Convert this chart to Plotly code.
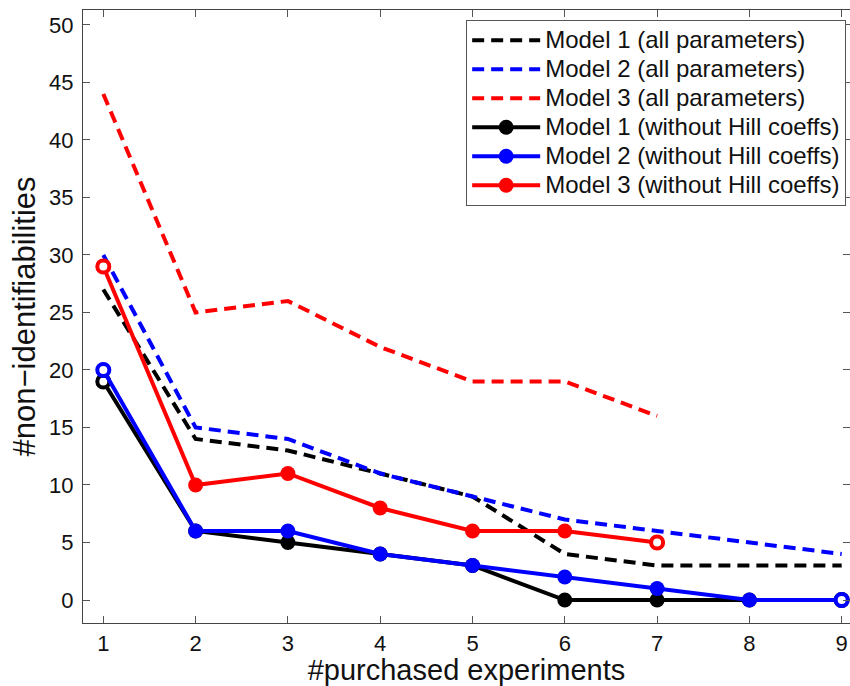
import plotly.graph_objects as go

x_all = [1, 2, 3, 4, 5, 6, 7, 8, 9]
x_m3 = [1, 2, 3, 4, 5, 6, 7]

m1_all = [27, 14, 13, 11, 9, 4, 3, 3, 3]
m2_all = [30, 15, 14, 11, 9, 7, 6, 5, 4]
m3_all = [44, 25, 26, 22, 19, 19, 16]

m1_nohill = [19, 6, 5, 4, 3, 0, 0, 0, 0]
m2_nohill = [20, 6, 6, 4, 3, 2, 1, 0, 0]
m3_nohill = [29, 10, 11, 8, 6, 6, 5]

names_all = ["Model 1 (all parameters)", "Model 2 (all parameters)", "Model 3 (all parameters)"]
names_nohill = ["Model 1 (without Hill coeffs)", "Model 2 (without Hill coeffs)",
                "Model 3 (without Hill coeffs)"]
colors = ["#000000", "#0000ff", "#ff0000"]

x_ticks = [1, 2, 3, 4, 5, 6, 7, 8, 9]
y_ticks = [0, 5, 10, 15, 20, 25, 30, 35, 40, 45, 50]

FONT = "Liberation Sans, Arial, Helvetica, sans-serif"


def big(label):
    return '<span style="font-size:24px">' + label + "</span>"


fig = go.Figure()

for xs, ys, name, c in zip([x_all, x_all, x_m3], [m1_all, m2_all, m3_all], names_all, colors):
    fig.add_trace(go.Scatter(x=xs, y=ys, mode="lines", name=big(name),
                             line=dict(color=c, width=4, dash="12px,7px")))

for xs, ys, name, c in zip([x_all, x_all, x_m3], [m1_nohill, m2_nohill, m3_nohill], names_nohill, colors):
    fig.add_trace(go.Scatter(x=xs, y=ys, mode="lines+markers", name=big(name),
                             line=dict(color=c, width=4),
                             marker=dict(symbol="circle", size=15, color=c)))
    fig.add_trace(go.Scatter(x=[xs[0], xs[-1]], y=[ys[0], ys[-1]], mode="markers",
                             showlegend=False, hoverinfo="skip",
                             marker=dict(symbol="circle", size=12, color="white",
                                         line=dict(color=c, width=4))))

axis_common = dict(showline=True, linecolor="#444444", linewidth=1.2, mirror="ticks",
                   ticks="inside", ticklen=7, tickcolor="#555555", tickwidth=1,
                   showgrid=False, zeroline=False,
                   tickfont=dict(family=FONT, size=22, color="#111111"))

fig.update_layout(
    width=850, height=686,
    margin=dict(l=83, r=0, t=10, b=63),
    paper_bgcolor="white", plot_bgcolor="white",
    font=dict(family=FONT, color="#111111"),
    xaxis=dict(range=[0.78, 9.09], tickvals=x_ticks,
               title=dict(text="#purchased experiments", font=dict(family=FONT, size=29), standoff=3),
               **axis_common),
    yaxis=dict(range=[-2, 51.3], tickvals=y_ticks, ticklabelstandoff=4,
               title=dict(text="#non\u2212identifiabilities", font=dict(family=FONT, size=31), standoff=4),
               **axis_common),
    legend=dict(x=0.995, y=0.984, xanchor="right", yanchor="top",
                bgcolor="white", bordercolor="#555555", borderwidth=1,
                font=dict(family=FONT, size=20, color="#111111"),
                itemwidth=68, tracegroupgap=0),
    showlegend=True,
)

fig.write_html("out.html")
